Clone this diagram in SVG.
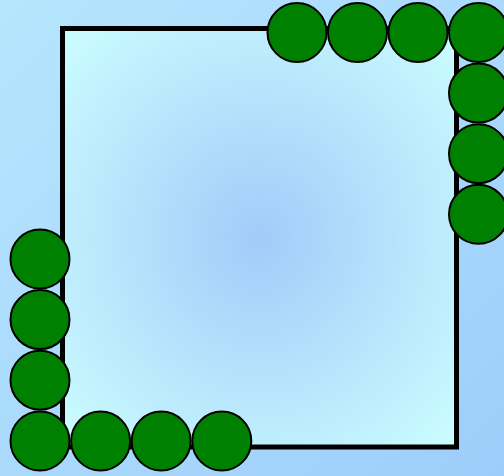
<svg xmlns="http://www.w3.org/2000/svg" width="504" height="476" viewBox="0 0 504 476">
<defs>
<linearGradient id="bg" x1="0" y1="0" x2="1" y2="1">
<stop offset="0" stop-color="#b6e6fd"/>
<stop offset="1" stop-color="#9ecdfb"/>
</linearGradient>
<radialGradient id="rg" cx="0.5" cy="0.5" r="0.72">
<stop offset="0" stop-color="#a2cbf9"/>
<stop offset="1" stop-color="#ccffff"/>
</radialGradient>
<style>
.n{fill:#008000;stroke:#000;stroke-width:2}
</style>
</defs>
<rect x="0" y="0" width="504" height="476" fill="url(#bg)"/>
<g id="frame">
<rect x="62.5" y="28.5" width="394" height="418.5" fill="url(#rg)" stroke="#000" stroke-width="5"/>
</g>
<g id="connectors"></g>
<g id="n1"><circle class="n" cx="297" cy="32.5" r="29.5"/></g>
<g id="n2"><circle class="n" cx="357.5" cy="32.5" r="29.5"/></g>
<g id="n3"><circle class="n" cx="418" cy="32.5" r="29.5"/></g>
<g id="n4"><circle class="n" cx="478.5" cy="32.5" r="29.5"/></g>
<g id="n5"><circle class="n" cx="478.5" cy="93.1" r="29.5"/></g>
<g id="n6"><circle class="n" cx="478.5" cy="153.7" r="29.5"/></g>
<g id="n7"><circle class="n" cx="478.5" cy="214.3" r="29.5"/></g>
<g id="n8"><circle class="n" cx="40" cy="259" r="29.5"/></g>
<g id="n9"><circle class="n" cx="40" cy="319.6" r="29.5"/></g>
<g id="n10"><circle class="n" cx="40" cy="380.2" r="29.5"/></g>
<g id="n11"><circle class="n" cx="40" cy="441" r="29.5"/></g>
<g id="n12"><circle class="n" cx="100.6" cy="441" r="29.5"/></g>
<g id="n13"><circle class="n" cx="161.2" cy="441" r="29.5"/></g>
<g id="n14"><circle class="n" cx="221.8" cy="441" r="29.5"/></g>
</svg>
